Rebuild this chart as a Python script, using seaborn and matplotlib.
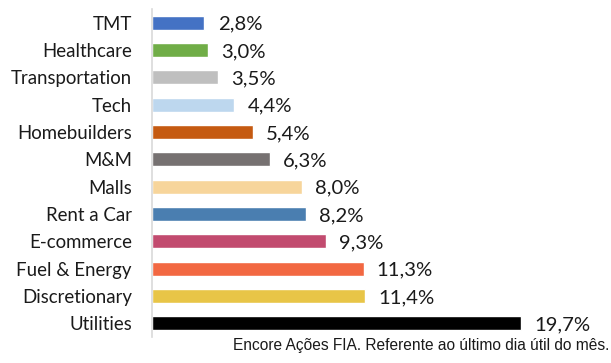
import matplotlib
matplotlib.use("Agg")
import matplotlib.pyplot as plt
import seaborn as sns
import pandas as pd

# Sector allocation
sectors = ["TMT", "Healthcare", "Transportation", "Tech", "Homebuilders", "M&M",
           "Malls", "Rent a Car", "E-commerce", "Fuel & Energy", "Discretionary", "Utilities"]
weights = [2.8, 3.0, 3.5, 4.4, 5.4, 6.3, 8.0, 8.2, 9.3, 11.3, 11.4, 19.7]
colors = ["#4472C4", "#70AD47", "#BFBFBF", "#BDD7EE", "#C55A11", "#767171",
          "#F7D59B", "#4A7EB0", "#C24B6F", "#F26842", "#E8C547", "#000000"]
footer = "Encore Ações FIA. Referente ao último dia útil do mês."

df = pd.DataFrame({"sector": sectors, "weight": weights})

sns.set_style("white")
plt.rcParams["font.family"] = ["Lato", "DejaVu Sans"]

W, H = 611, 363
fig = plt.figure(figsize=(W / 100, H / 100), dpi=100)
ax = fig.add_axes([152 / W, 1 - 337 / H, (W - 152) / W, (337 - 9) / H])

sns.barplot(data=df, x="weight", y="sector", hue="sector", palette=colors,
            order=sectors, hue_order=sectors, orient="h", width=0.51,
            legend=False, saturation=1, ax=ax)

for container, v in zip(ax.containers, weights):
    texts = ax.bar_label(container, labels=[f"{v:.1f}".replace(".", ",") + "%"],
                         padding=9.5, fontsize=14.6, color="#1a1a1a")
    for t in texts:
        t.set_va("center_baseline")

ax.set_xlim(0, (W - 152) / 18.72)
ax.set_ylim(len(sectors) - 0.5, -0.5)
ax.set_xlabel("")
ax.set_ylabel("")
ax.set_xticks([])
ax.tick_params(axis="y", length=0, pad=14.4, labelsize=13.4, labelcolor="#1a1a1a")
for side in ["top", "right", "bottom"]:
    ax.spines[side].set_visible(False)
ax.spines["left"].set_color("#D9D9D9")
ax.spines["left"].set_linewidth(1.2)

fig.text(609 / W, 1 - 350 / H, footer, ha="right", va="baseline",
         family="Liberation Sans", fontsize=11.2, color="#1a1a1a")

fig.savefig("out.png", dpi=100)
